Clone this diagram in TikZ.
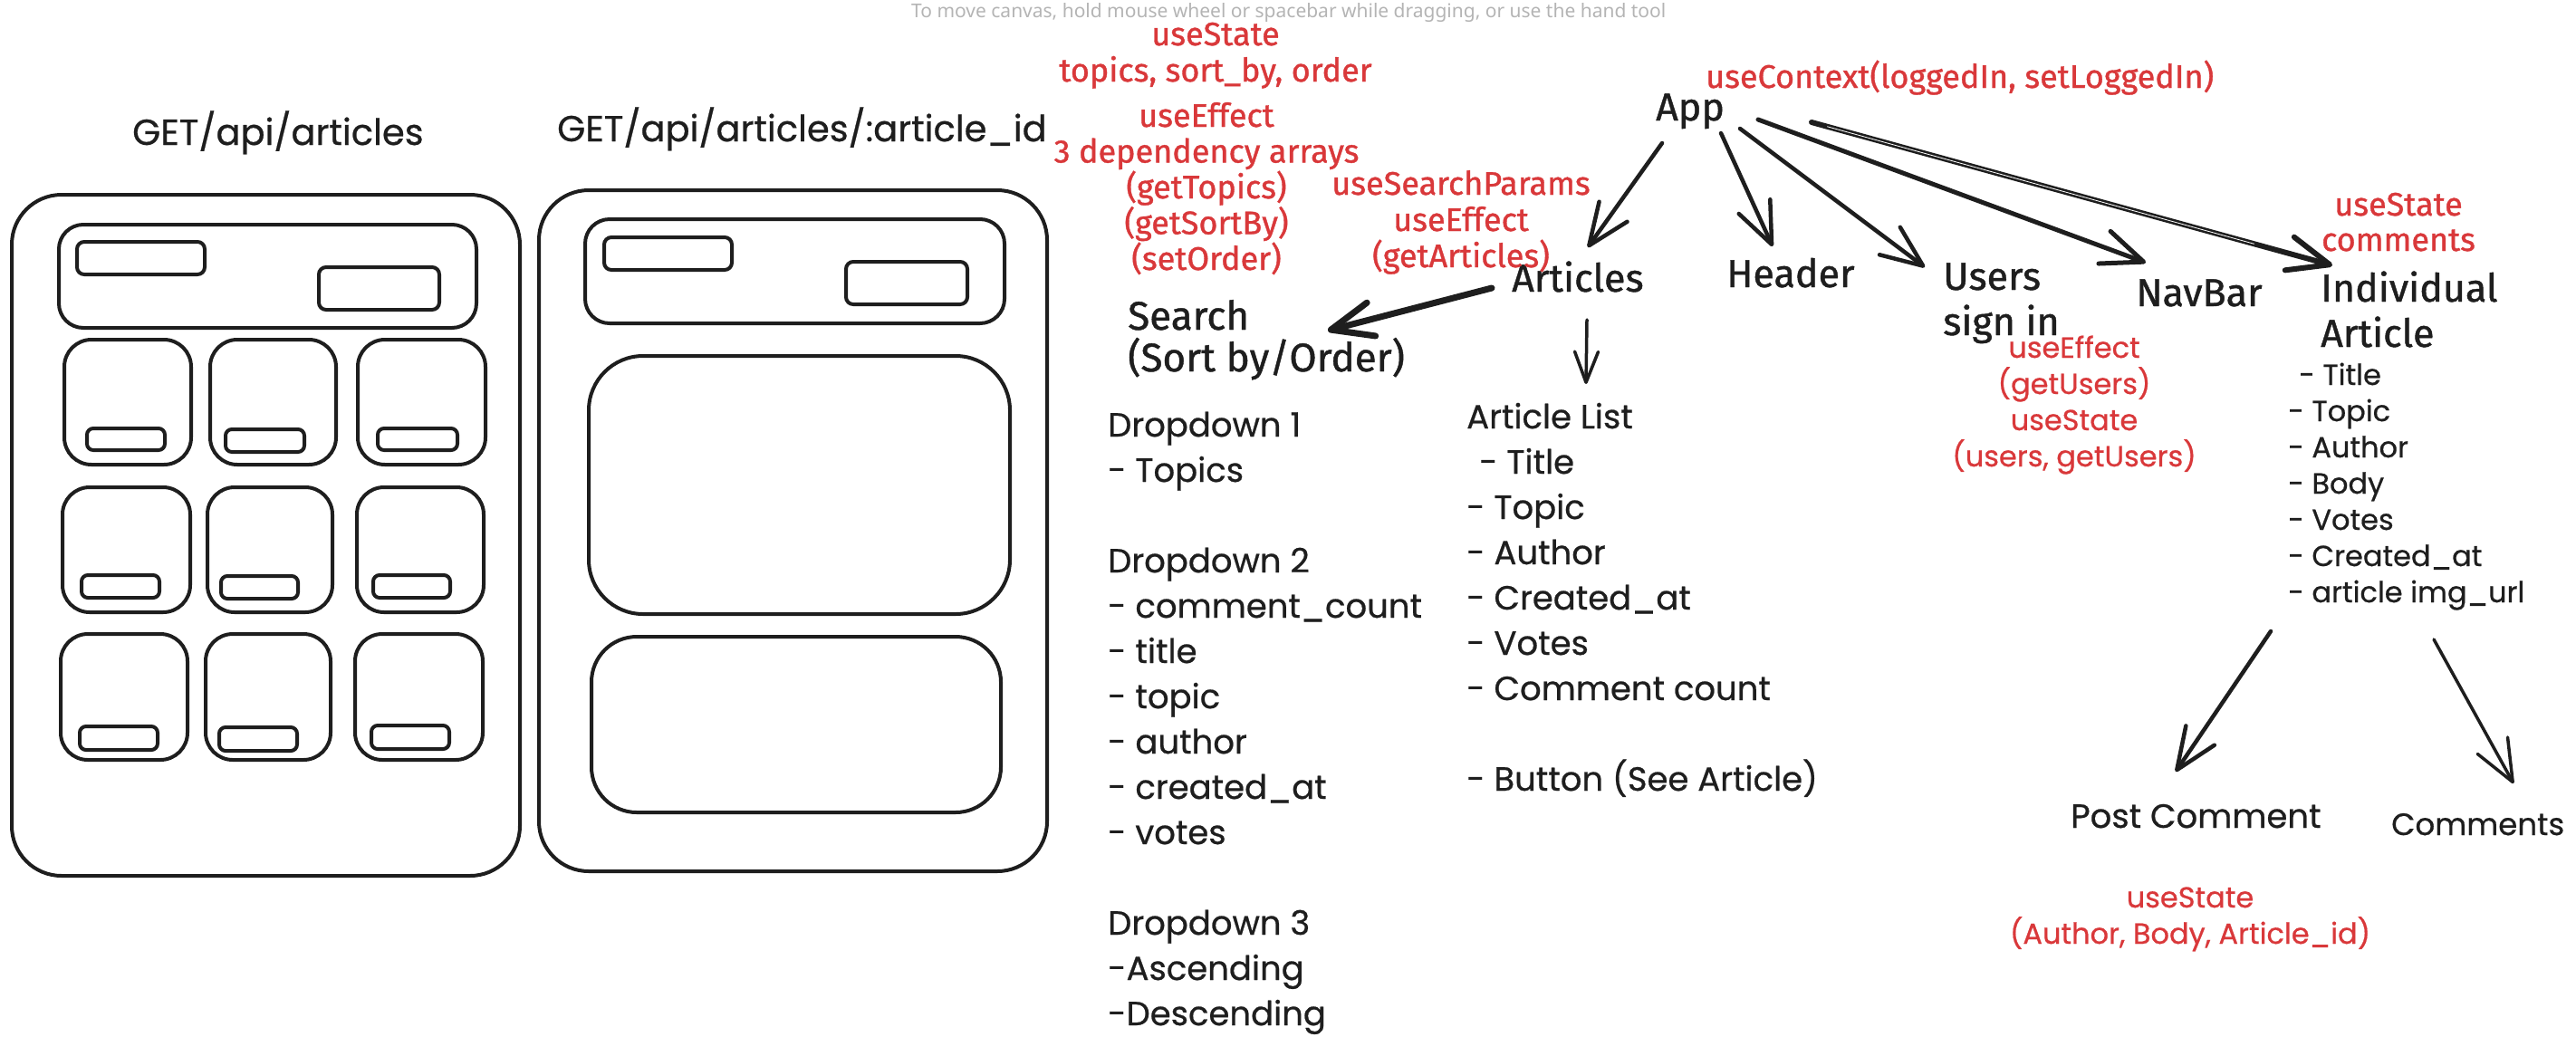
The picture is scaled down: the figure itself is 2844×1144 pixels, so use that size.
\documentclass[tikz,border=0pt]{standalone}
\usepackage{fontspec}
\usepackage{graphicx}
\setmainfont{Fira Sans}[FakeBold=1]
\newfontfamily\wirefont{Poppins}[FakeBold=0.6]
\newfontfamily\hintfont{Noto Sans}
\usetikzlibrary{arrows.meta}
\usetikzlibrary{calc}
\definecolor{ink}{HTML}{1E1E1E}
\definecolor{hookred}{HTML}{D9383A}
\definecolor{hintgray}{HTML}{B4B4B4}
\tikzset{
  comp/.style={anchor=base west, inner sep=0pt, text=ink, align=left,
    font=\fontsize{43pt}{50pt}\selectfont},
  list/.style={anchor=base west, inner sep=0pt, text=ink, align=left,
    font=\wirefont\fontsize{37pt}{50pt}\selectfont},
  hook/.style={anchor=base, inner sep=0pt, text=hookred, align=center,
    font=\fontsize{36pt}{40pt}\selectfont},
  wirehook/.style={hook, font=\wirefont\fontsize{32pt}{40pt}\selectfont},
  frame/.style={draw=ink, line width=4pt, rounded corners=55pt},
  card/.style={draw=ink, line width=4pt, rounded corners=30pt},
  arr/.style={color=ink, line width=4.5pt, line cap=round, line join=round,
    -{Straight Barb[length=46pt, width=38pt, round]}},
}
\begin{document}
\begin{tikzpicture}[x=1pt, y=-1pt]
  \useasboundingbox (0,0) rectangle (2844,1144);

  \node[anchor=base west, inner sep=0pt, text=hintgray] (hint) at (1006,19)
    {\resizebox{833pt}{16pt}{\hintfont To move canvas, hold mouse wheel or spacebar while dragging, or use the hand tool}};

  % wireframes
  \node[list, font=\wirefont\fontsize{40pt}{46pt}\selectfont] (listtitle) at (146,160) {GET/api/articles};
  \node[list, font=\wirefont\fontsize{40pt}{46pt}\selectfont] (itemtitle) at (615,156) {GET/api/articles/:article\_id};

  \draw[frame] (13,215) rectangle (574,967);
  \draw[frame, rounded corners=27pt] (65,248) rectangle (526,362)
    [rounded corners=8pt] (85,267) rectangle (226,303) (352,295) rectangle (485,342);
  \draw[card] (71,375) rectangle (211,513) [rounded corners=7pt] (96,473) rectangle (182,497);
  \draw[card] (232,375) rectangle (371,513) [rounded corners=7pt] (249,474) rectangle (336,499);
  \draw[card] (395,375) rectangle (536,513) [rounded corners=7pt] (417,473) rectangle (505,497);
  \draw[card] (69,538) rectangle (210,676) [rounded corners=7pt] (90,635) rectangle (176,660);
  \draw[card] (229,538) rectangle (367,676) [rounded corners=7pt] (244,636) rectangle (329,661);
  \draw[card] (394,538) rectangle (534,676) [rounded corners=7pt] (412,635) rectangle (497,660);
  \draw[card] (67,700) rectangle (207,839) [rounded corners=7pt] (88,802) rectangle (174,828);
  \draw[card] (227,700) rectangle (365,839) [rounded corners=7pt] (242,803) rectangle (328,829);
  \draw[card] (392,700) rectangle (533,839) [rounded corners=7pt] (410,801) rectangle (496,827);

  \draw[frame] (595,210) rectangle (1156,962);
  \draw[frame, rounded corners=27pt] (646,242) rectangle (1109,357)
    [rounded corners=8pt] (667,262) rectangle (808,298) (934,289) rectangle (1068,336);
  \draw[frame, rounded corners=60pt] (650,393) rectangle (1115,678);
  \draw[frame, rounded corners=50pt] (653,703) rectangle (1105,897);

  % components (multi-line nodes sit on their last baseline)
  \node[comp] (app) at (1828,133) {App};
  \node[comp] (articles) at (1669,322) {Articles};
  \node[comp] (header) at (1906,317) {Header};
  \node[comp] (users) at (2145,370) {Users\\sign in};
  \node[comp] (navbar) at (2358,338) {NavBar};
  \node[comp] (indiv) at (2562,383) {Individual\\Article};
  \node[comp, font=\fontsize{44pt}{46pt}\selectfont] (search) at (1245,410) {Search\\(Sort by/Order)};

  \node[list] (dropdowns) at (1223,1132) {Dropdown 1\\- Topics\\[50pt]Dropdown 2\\- comment\_count\\- title\\- topic\\- author\\- created\_at\\- votes\\[50pt]Dropdown 3\\-Ascending\\-Descending};
  \node[list] (artlist) at (1619,873) {Article List\\\hspace*{14pt}- Title\\- Topic\\- Author\\- Created\_at\\- Votes\\- Comment count\\[50pt]- Button (See Article)};
  \node[list, font=\wirefont\fontsize{32pt}{40pt}\selectfont] (indivlist) at (2526,665) {\hspace*{12pt}- Title\\- Topic\\- Author\\- Body\\- Votes\\- Created\_at\\- article img\_url};
  \node[list] (postc) at (2286,914) {Post Comment};
  \node[list, font=\wirefont\fontsize{34pt}{40pt}\selectfont] (comments) at (2640,922) {Comments};

  % hooks
  \node[hook] (statetop) at (1342,90) {useState\\topics, sort\_by, order};
  \node[hook, font=\fontsize{36pt}{39.5pt}\selectfont] (effecttop) at (1332,298) {useEffect\\3 dependency arrays\\(getTopics)\\(getSortBy)\\(setOrder)};
  \node[hook] (params) at (1613,295) {useSearchParams\\useEffect\\(getArticles)};
  \node[hook, anchor=base west] (context) at (1883,97) {useContext(loggedIn, setLoggedIn)};
  \node[hook, font=\fontsize{36pt}{39pt}\selectfont] (comstate) at (2648,277) {useState\\comments};
  \node[wirehook] (userhooks) at (2290,515) {useEffect\\(getUsers)\\useState\\(users, getUsers)};
  \node[wirehook] (poststate) at (2418,1042) {useState\\(Author, Body, Article\_id)};

  % arrows
  \path[arr] ([shift={(7,25)}]app.base west) edge ([shift={(84,-49)}]articles.base west);
  \path[arr] ([shift={(72,14)}]app.base west) edge ([shift={(51,-45)}]header.base west);
  \path[arr] ([shift={(93,9)}]app.base west) edge ([shift={(-20,-75)}]users.base west);
  \path[arr, line width=5pt] ([shift={(113,-1)}]app.base west) edge ([shift={(11,-48)}]navbar.base west);
  \path[arr, line width=6pt] ([shift={(172,2)}]app.base west) edge ([shift={(13,-90)}]indiv.base west);
  \draw[white, line width=0.8pt] ($([shift={(172,2)}]app.base west)!0.03!([shift={(13,-90)}]indiv.base west)$)
    -- ($([shift={(172,2)}]app.base west)!0.85!([shift={(13,-90)}]indiv.base west)$);
  \path[arr, line width=7pt] ([shift={(-22,-4)}]articles.base west) edge ([shift={(221,-45)}]search.base west);
  \path[arr, line width=3.5pt, -{Straight Barb[length=34pt, width=26pt, round]}] ([shift={(83,31)}]articles.base west) edge ([shift={(132,-449)}]artlist.base west);
  \path[arr] ([shift={(-19,32)}]indivlist.base west) edge ([shift={(116,-62)}]postc.base west);
  \path[arr, line width=3.5pt] ([shift={(161,41)}]indivlist.base west) edge ([shift={(135,-57)}]comments.base west);
\end{tikzpicture}
\end{document}
